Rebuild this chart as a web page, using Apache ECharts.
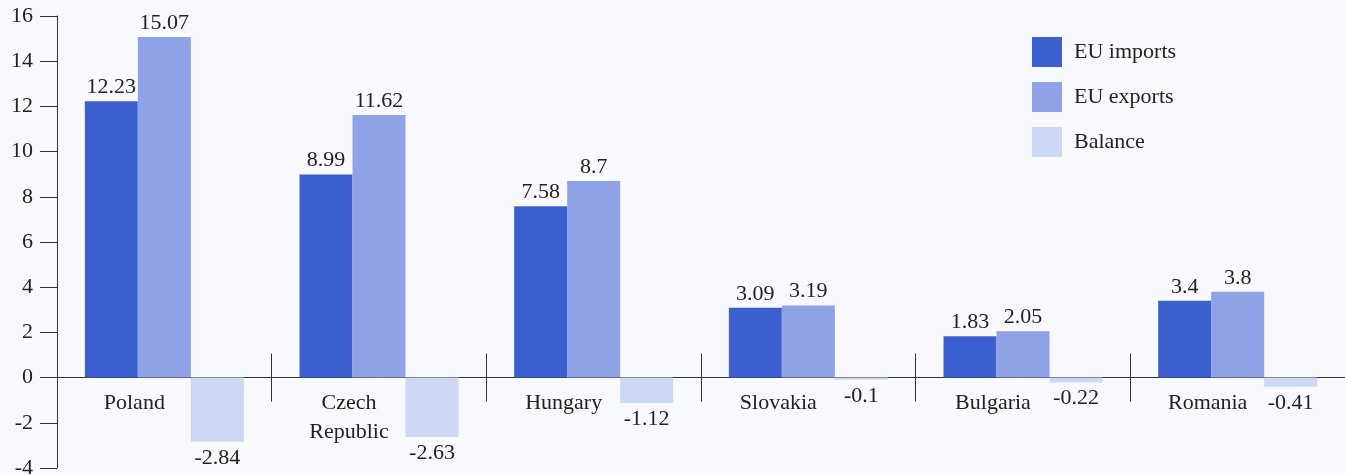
<!DOCTYPE html>
<html>
<head>
<meta charset="utf-8">
<script src="https://cdn.jsdelivr.net/npm/echarts@6/dist/echarts.min.js"></script>
<style>
  html, body { margin: 0; padding: 0; background: #f8f9fd; }
  #chart { width: 1345px; height: 475px; }
</style>
</head>
<body>
<div id="chart"></div>
<script>
const countries = ["Poland", "Czech\nRepublic", "Hungary", "Slovakia", "Bulgaria", "Romania"];
const euImports = [12.23, 8.99, 7.58, 3.09, 1.83, 3.4];
const euExports = [15.07, 11.62, 8.7, 3.19, 2.05, 3.8];
const balance = [-2.84, -2.63, -1.12, -0.1, -0.22, -0.41];

const font = "Liberation Serif";
const textColor = "#222";

const valueLabel = (pos, dist) => ({
  show: true,
  position: pos,
  distance: dist,
  fontFamily: font,
  fontSize: 22,
  color: textColor
});

const option = {
  backgroundColor: "#f8f9fd",
  animation: false,
  legend: {
    orient: "vertical",
    left: 1027,
    top: 32,
    itemWidth: 30,
    itemHeight: 30,
    itemGap: 15,
    icon: "rect",
    textStyle: { fontFamily: font, fontSize: 22, color: textColor, padding: [0, 0, 0, 7] },
    data: ["EU imports", "EU exports", "Balance"]
  },
  grid: { left: 57, right: 0, top: 16, bottom: 7, outerBoundsMode: "none", containLabel: false },
  xAxis: [
    {
      // zero line, downward ticks and country names (moved up from the grid bottom to y = 0)
      type: "category",
      data: countries,
      position: "bottom",
      offset: -90.4,
      axisLine: { onZero: false, lineStyle: { color: "#333", width: 1 } },
      axisTick: { show: true, length: 24, lineStyle: { color: "#333" } },
      axisLabel: {
        fontFamily: font,
        fontSize: 22,
        color: textColor,
        margin: 11,
        lineHeight: 29,
        padding: [0, 60, 0, 0]
      }
    },
    {
      // upward half of the separator ticks
      type: "category",
      data: countries,
      position: "top",
      axisLine: { show: false, onZero: true, onZeroAxisIndex: 0 },
      axisTick: { show: true, length: 24, lineStyle: { color: "#333" } },
      axisLabel: { show: false }
    }
  ],
  yAxis: {
    type: "value",
    min: -4,
    max: 16,
    interval: 2,
    axisLine: { show: true, lineStyle: { color: "#333" } },
    axisTick: { show: true, length: 17, lineStyle: { color: "#333" } },
    splitLine: { show: false },
    axisLabel: { fontFamily: font, fontSize: 22, color: textColor, margin: 24 }
  },
  series: [
    {
      name: "EU imports",
      type: "bar",
      data: euImports,
      barWidth: 53,
      barGap: "0%",
      itemStyle: { color: "#3c5fcf" },
      label: valueLabel("top", 3)
    },
    {
      name: "EU exports",
      type: "bar",
      data: euExports,
      barWidth: 53,
      barGap: "0%",
      itemStyle: { color: "#8fa2e6" },
      label: valueLabel("top", 3)
    },
    {
      name: "Balance",
      type: "bar",
      data: balance,
      barWidth: 53,
      barGap: "0%",
      itemStyle: { color: "#cdd8f5" },
      label: valueLabel("bottom", 5)
    }
  ]
};

const chart = echarts.init(document.getElementById("chart"));
chart.setOption(option);
window.addEventListener("resize", () => chart.resize());
</script>
</body>
</html>
